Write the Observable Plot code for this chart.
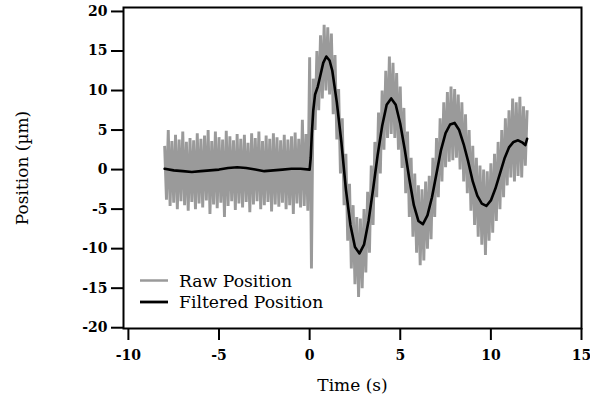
<!DOCTYPE html>
<html>
<head>
<meta charset="utf-8">
<script src="https://cdn.jsdelivr.net/npm/d3@7"></script>
<script src="https://cdn.jsdelivr.net/npm/@observablehq/plot@0.6"></script>
<style>
  html, body { margin: 0; padding: 0; background: #fff; }
  #chart svg { display: block; }
</style>
</head>
<body>
<div id="chart"></div>
<script>
// ---- Data ----
const xTicks = [-10, -5, 0, 5, 10, 15];
const yTicks = [-20, -15, -10, -5, 0, 5, 10, 15, 20];

// Raw position samples (µm), one every 0.1 s starting at -8 s
const rawStart = -8.0;
const rawStep = 0.1;
const rawValues = [
  3.0,-3.8,5.0,-4.6,3.6,-4.2,4.4,-5.0,3.8,-4.0,
  4.8,-4.5,3.5,-5.2,4.0,-4.1,3.7,-5.0,4.6,-4.3,
  3.9,-4.8,4.3,-3.9,5.0,-5.6,3.6,-4.4,4.8,-4.9,
  4.1,-4.2,3.8,-6.0,4.9,-4.6,4.2,-4.0,3.7,-5.1,
  4.5,-4.3,3.9,-4.8,4.4,-4.1,3.4,-5.4,4.6,-4.4,
  4.0,-4.0,4.8,-5.0,3.6,-4.5,4.3,-4.1,3.9,-5.3,
  4.6,-4.4,4.1,-4.7,3.7,-4.2,4.4,-5.0,3.8,-4.5,
  4.2,-5.6,4.7,-4.3,3.9,-4.8,6.3,-4.6,4.5,-5.2,
  14.2,-12.5,11.5,5.0,15.0,7.5,17.0,9.0,18.3,10.0,
  18.0,9.5,17.2,7.0,14.5,3.8,10.2,-0.5,6.5,-4.5,
  2.0,-9.0,-1.8,-12.5,-4.5,-14.5,-6.0,-16.1,-6.2,-15.0,
  -5.0,-13.0,-2.8,-10.5,0.5,-7.0,3.5,-3.5,7.2,-0.5,
  10.0,2.5,12.5,4.0,14.3,4.5,13.5,4.0,12.2,2.5,
  10.5,0.2,7.8,-3.0,4.8,-6.0,1.5,-8.5,-0.5,-10.5,
  -2.0,-12.1,-2.5,-11.5,-1.5,-10.0,-0.8,-8.8,1.5,-6.0,
  4.0,-3.5,6.5,-1.5,8.5,0.3,9.8,1.0,10.5,1.2,
  10.2,1.5,9.5,0.0,8.5,-1.5,7.0,-3.0,5.0,-5.2,
  3.0,-7.0,1.5,-8.5,0.5,-9.5,0.0,-10.8,-0.2,-9.0,
  0.8,-8.0,2.0,-6.5,3.5,-5.0,5.0,-3.5,6.5,-2.0,
  7.5,-1.0,9.0,-1.5,8.5,-0.8,9.2,-1.0,8.0,0.5,
  7.5
];

// Filtered position (µm)
const filteredTime = [
  -8,-7.5,-7,-6.5,-6,-5.5,-5,-4.5,-4,-3.5,-3,-2.5,-2,-1.5,-1,-0.5,0,
  0.06,0.12,0.2,0.3,0.45,0.6,0.75,0.92,1.1,1.25,1.5,1.75,2,2.25,2.5,2.75,
  3,3.25,3.5,3.75,4,4.25,4.5,4.75,5,5.25,5.5,5.75,6,6.25,6.5,6.75,
  7,7.25,7.5,7.75,8,8.25,8.5,8.75,9,9.25,9.5,9.75,10,10.25,10.5,10.75,
  11,11.25,11.5,11.75,11.9,12
];
const filteredValues = [
  0.1,-0.1,-0.2,-0.3,-0.2,-0.1,0.0,0.2,0.3,0.2,0.0,-0.2,-0.1,0.0,0.1,0.1,0.0,
  1.5,4.5,7.5,9.5,10.5,12.0,13.5,14.3,13.8,12.5,8.5,3.5,-2.5,-7.0,-9.8,-10.6,
  -9.5,-6.5,-2.5,1.8,5.5,8.2,9.0,8.2,5.8,2.5,-1.2,-4.5,-6.5,-6.9,-5.8,-3.5,
  -0.5,2.5,4.6,5.7,5.9,5.0,3.2,1.0,-1.5,-3.3,-4.3,-4.6,-3.9,-2.4,-0.5,1.4,
  2.8,3.5,3.7,3.4,3.1,3.9
];

const legendLabels = ["Raw Position", "Filtered Position"];
const seriesColors = ["#9a9a9a", "#000000"];

// ---- Build tables ----
const raw = rawValues.map((v, i) => ({t: rawStart + i * rawStep, v}));
const filtered = filteredTime.map((t, i) => ({t, v: filteredValues[i]}));

const W = 590, H = 401;
const mL = 123, mR = 9, mT = 7, mB = 73;
const serif = "'DejaVu Serif', 'Liberation Serif', serif";

const chart = Plot.plot({
  width: W,
  height: H,
  marginLeft: mL,
  marginRight: mR,
  marginTop: mT,
  marginBottom: mB,
  style: {fontFamily: serif, background: "#fff", color: "#000"},
  x: {domain: [-10.27, 15]},
  y: {domain: [-20.1, 20.5]},
  marks: [
    Plot.line(raw, {x: "t", y: "v", stroke: seriesColors[0], strokeWidth: 2.9,
      strokeLinejoin: "bevel", strokeLinecap: "butt"}),
    Plot.line(filtered, {x: "t", y: "v", stroke: seriesColors[1], strokeWidth: 2.6, strokeLinejoin: "round"}),
    Plot.frame({stroke: "#000", strokeWidth: 2}),
    Plot.axisX({
      ticks: xTicks, tickSize: 12, tickPadding: 10, strokeWidth: 2,
      tickFormat: d => String(d), fontSize: 14, fontWeight: "bold",
      label: "Time (s)", labelAnchor: "center", labelArrow: "none", labelOffset: 62
    }),
    Plot.axisY({
      ticks: yTicks, tickSize: 12, tickPadding: 4, strokeWidth: 2,
      tickFormat: d => String(d), fontSize: 14, fontWeight: "bold",
      label: "Position (µm)", labelAnchor: "center", labelArrow: "none", labelOffset: 108
    })
  ]
});

document.getElementById("chart").appendChild(chart);

// label styling (axis titles are regular weight, larger)
d3.select(chart).selectAll("g[aria-label='x-axis label'] text, g[aria-label='y-axis label'] text")
  .attr("font-weight", "normal").attr("font-size", 17);

// ---- Legend inside the plot area ----
const svg = d3.select(chart);
const lg = svg.append("g").attr("font-family", serif).attr("font-size", 17.2)
  .attr("text-anchor", "start");
legendLabels.forEach((name, i) => {
  const y = 280.5 + i * 21.5;
  lg.append("line").attr("x1", 140).attr("x2", 168).attr("y1", y).attr("y2", y)
    .attr("stroke", seriesColors[i]).attr("stroke-width", i === 0 ? 2.5 : 2.8);
  lg.append("text").attr("x", 179).attr("y", y).attr("dy", "0.35em")
    .attr("text-anchor", "start").text(name);
});
</script>
</body>
</html>
